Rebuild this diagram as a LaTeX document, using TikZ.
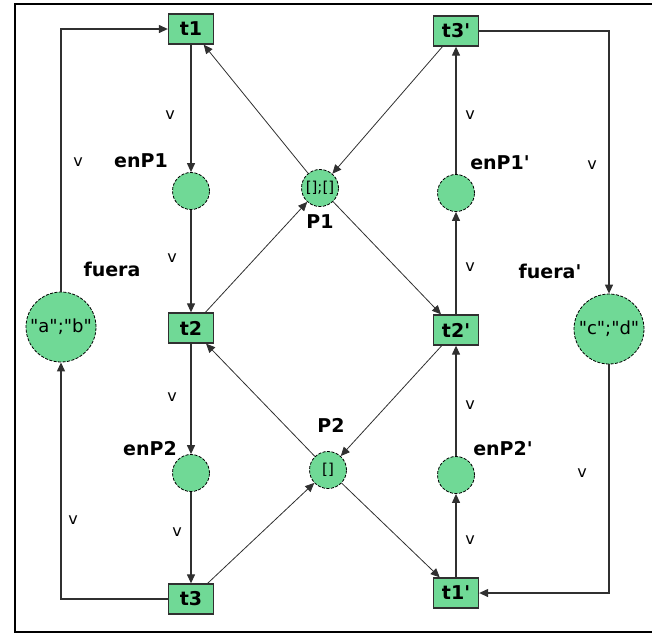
\documentclass[tikz,border=0pt]{standalone}
\usepackage{fontspec}
\setmainfont{DejaVu Sans}
\usepackage{xcolor}
\usepackage{tikz}
\usetikzlibrary{positioning, arrows.meta}
\definecolor{placegreen}{HTML}{70D996}
\definecolor{arcgray}{HTML}{303030}
\newcommand{\qq}{\textquotedbl}
\newcommand{\pr}{\textquotesingle}

\tikzset{
  trans/.style={fill=placegreen, draw=arcgray, line width=1.3pt, minimum width=45pt,
                minimum height=30pt, inner sep=0pt, font=\bfseries\fontsize{19}{19}\selectfont},
  place/.style={circle, fill=placegreen, draw=black, line width=0.8pt,
                dash pattern=on 3pt off 1.5pt, minimum size=37pt, inner sep=0pt,
                font=\fontsize{15}{15}\selectfont},
  bigplace/.style={place, minimum size=70pt, font=\fontsize{18}{18}\selectfont},
  arc/.style={-{Triangle[length=9pt, width=8pt]}, draw=arcgray, line width=1.2pt},
  diagarc/.style={arc, line width=0.8pt},
  inscr/.style={font=\fontsize{16}{16}\selectfont},
  plabel/.style={font=\bfseries\fontsize{19}{19}\selectfont}
}

\begin{document}
\begin{tikzpicture}[x=1pt, y=-1pt]
  \useasboundingbox (0,0) rectangle (652,633);
  \draw[line width=2pt] (652,4) -- (15,4) -- (15,632) -- (652,632);

  % transitions
  \node[trans] (t1) at (191,29) {t1};
  \node[trans] (t2) at (191,328) {t2};
  \node[trans] (t3) at (191,599) {t3};
  \node[trans] (t3p) at (456,31) {t3\pr};
  \node[trans] (t2p) at (456,330) {t2\pr};
  \node[trans] (t1p) at (456,593) {t1\pr};

  % places
  \node[place] (enP1) at (191,191) {};
  \node[place] (enP2) at (191,473) {};
  \node[place] (enP1p) at (456,193) {};
  \node[place] (enP2p) at (456,475) {};
  \node[place] (P1) at (320,188) {[];[]};
  \node[place] (P2) at (328,470) {[]};
  \node[bigplace] (fuera) at (61,327) {\qq a\qq;\qq b\qq};
  \node[bigplace] (fuerap) at (609,329) {\qq c\qq;\qq d\qq};

  % place names
  \node[plabel] (lenP1) at (141,161) {enP1};
  \node[plabel] (lenP2) at (150,449) {enP2};
  \node[plabel] (lenP1p) at (500,163) {enP1\pr};
  \node[plabel] (lenP2p) at (503,449) {enP2\pr};
  \node[plabel] (lP1) at (320,222) {P1};
  \node[plabel] (lP2) at (331,425) {P2};
  \node[plabel] (lfuera) at (112,269) {fuera};
  \node[plabel] (lfuerap) at (550,271) {fuera\pr};

  % arcs
  \draw[arc] (fuera.north) |- (t1.west);
  \draw[arc] (t3.west) -| (fuera.south);
  \draw[arc] (t1) -- (enP1);
  \draw[arc] (enP1) -- (t2);
  \draw[arc] (t2) -- (enP2);
  \draw[arc] (enP2) -- (t3);
  \draw[arc] (t3p.east) -| (fuerap.north);
  \draw[arc] (fuerap.south) |- (t1p.east);
  \draw[arc] (t1p) -- (enP2p);
  \draw[arc] (enP2p) -- (t2p);
  \draw[arc] (t2p) -- (enP1p);
  \draw[arc] (enP1p) -- (t3p);
  \draw[diagarc] (P1) -- (t1);
  \draw[diagarc] (t2) -- (P1);
  \draw[diagarc] (t3p) -- (P1);
  \draw[diagarc] (P1) -- (t2p);
  \draw[diagarc] (P2) -- (t2);
  \draw[diagarc] (t3) -- (P2);
  \draw[diagarc] (t2p) -- (P2);
  \draw[diagarc] (P2) -- (t1p);

  % arc inscriptions
  \node[inscr] (v1) at (170,115) {v};
  \node[inscr] (v2) at (78,162) {v};
  \node[inscr] (v3) at (172,258) {v};
  \node[inscr] (v4) at (470,115) {v};
  \node[inscr] (v5) at (592,165) {v};
  \node[inscr] (v6) at (470,267) {v};
  \node[inscr] (v7) at (172,397) {v};
  \node[inscr] (v8) at (73,520) {v};
  \node[inscr] (v9) at (177,532) {v};
  \node[inscr] (v10) at (470,405) {v};
  \node[inscr] (v11) at (582,473) {v};
  \node[inscr] (v12) at (470,540) {v};
\end{tikzpicture}
\end{document}
